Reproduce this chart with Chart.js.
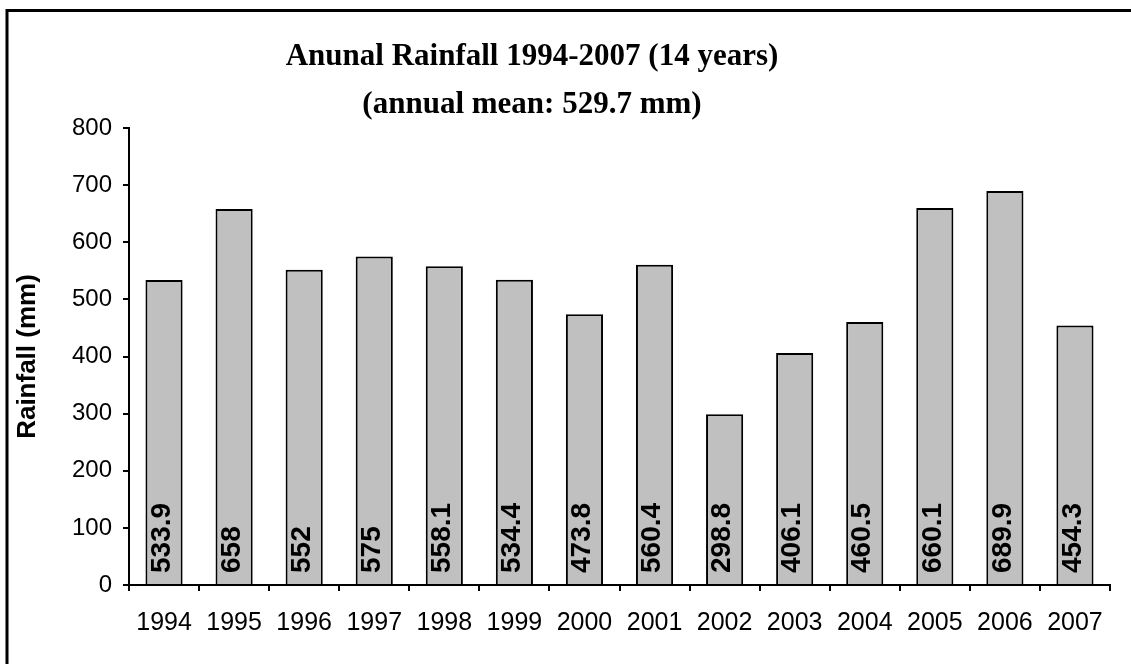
<!DOCTYPE html>
<html>
<head>
<meta charset="utf-8">
<script src="https://cdn.jsdelivr.net/npm/chart.js@4"></script>
<style>
  body { margin: 0; background: #fff; }
  #wrap { width: 1131px; height: 664px; }
</style>
</head>
<body>
<div id="wrap"><canvas id="rain" width="1131" height="664"></canvas></div>
<script>
// rainfall per year, mm
const years = ['1994', '1995', '1996', '1997', '1998', '1999', '2000',
               '2001', '2002', '2003', '2004', '2005', '2006', '2007'];
const rainfall = [533.9, 658, 552, 575, 558.1, 534.4, 473.8,
                  560.4, 298.8, 406.1, 460.5, 660.1, 689.9, 454.3];
const titleLines = ['Anunal Rainfall 1994-2007 (14 years)', '(annual mean: 529.7 mm)'];
const yTicks = [0, 100, 200, 300, 400, 500, 600, 700, 800];

const sansFont = 'Arial, "Liberation Sans", sans-serif';

// frame (only top + left edge are inside the picture) and two-line title
const framePlugin = {
    id: 'frame',
    beforeDraw(chart) {
        const ctx = chart.ctx;
        ctx.save();
        ctx.fillStyle = '#fff';
        ctx.fillRect(0, 0, chart.width, chart.height);
        ctx.strokeStyle = '#000';
        ctx.lineWidth = 3;
        ctx.beginPath();
        ctx.moveTo(7, 664);
        ctx.lineTo(7, 10.5);
        ctx.lineTo(1131, 10.5);
        ctx.stroke();
        ctx.restore();
    },
    afterDraw(chart) {
        const ctx = chart.ctx;
        ctx.save();
        ctx.fillStyle = '#000';
        ctx.font = 'bold 31px "Times New Roman", "Liberation Serif", serif';
        ctx.textAlign = 'center';
        ctx.textBaseline = 'alphabetic';
        ctx.fillText(titleLines[0], 532, 65);
        ctx.fillText(titleLines[1], 532, 113);
        ctx.restore();
    }
};

// vertical value labels sitting at the foot of each bar
const barLabels = {
    id: 'barLabels',
    afterDatasetsDraw(chart) {
        const ctx = chart.ctx;
        const meta = chart.getDatasetMeta(0);
        ctx.save();
        ctx.fillStyle = '#000';
        ctx.font = 'bold 28px ' + sansFont;
        ctx.textAlign = 'left';
        ctx.textBaseline = 'middle';
        meta.data.forEach((bar, i) => {
            ctx.save();
            ctx.translate(bar.x, bar.base - 11);
            ctx.rotate(-Math.PI / 2);
            ctx.fillText(String(rainfall[i]), 0, -2);
            ctx.restore();
        });
        ctx.restore();
    }
};

new Chart(document.getElementById('rain'), {
    type: 'bar',
    data: {
        labels: years,
        datasets: [{
            data: rainfall,
            backgroundColor: '#c0c0c0',
            borderColor: '#000',
            borderWidth: 2,
            barPercentage: 0.53,
            categoryPercentage: 1.0
        }]
    },
    options: {
        responsive: false,
        animation: false,
        devicePixelRatio: 1,
        layout: { padding: { top: 128, left: 0, right: 21, bottom: 0 } },
        plugins: {
            legend: { display: false },
            title: { display: false },
            tooltip: { enabled: false }
        },
        scales: {
            x: {
                afterFit(scale) { scale.height = 79; },
                grid: {
                    drawOnChartArea: false,
                    drawTicks: true,
                    tickLength: 6,
                    color: '#000',
                    lineWidth: 2,
                    offset: true
                },
                border: { display: true, color: '#000', width: 2 },
                ticks: {
                    color: '#000',
                    font: { family: sansFont, size: 25 },
                    padding: 17,
                    maxRotation: 0,
                    autoSkip: false
                }
            },
            y: {
                min: 0,
                max: 800,
                afterFit(scale) { scale.width = 129; },
                afterBuildTicks(scale) {
                    scale.ticks = yTicks.map(v => ({ value: v }));
                },
                grid: {
                    drawOnChartArea: false,
                    drawTicks: true,
                    tickLength: 6,
                    color: '#000',
                    lineWidth: 2
                },
                border: { display: true, color: '#000', width: 2 },
                ticks: {
                    color: '#000',
                    font: { family: sansFont, size: 24 },
                    padding: 11
                },
                title: {
                    display: true,
                    text: 'Rainfall (mm)',
                    color: '#000',
                    font: { family: sansFont, size: 26, weight: 'bold' },
                    padding: { top: 12, bottom: 0 }
                }
            }
        }
    },
    plugins: [framePlugin, barLabels]
});
</script>
</body>
</html>
